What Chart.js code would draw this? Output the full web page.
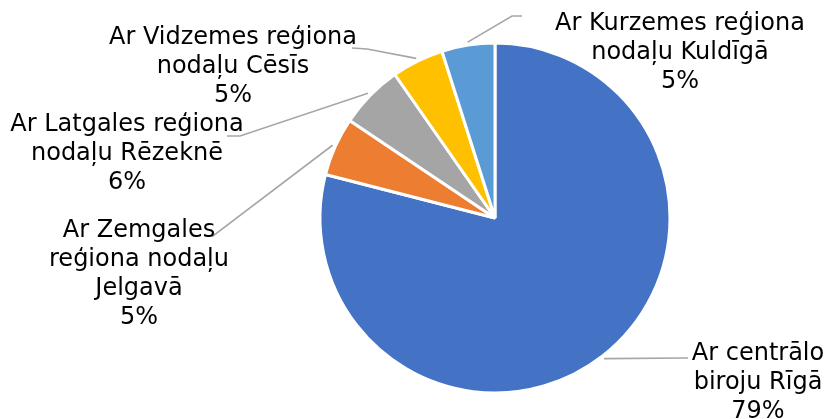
<!DOCTYPE html>
<html>
<head>
<meta charset="utf-8">
<script src="https://cdn.jsdelivr.net/npm/chart.js@4.4.1/dist/chart.umd.min.js"></script>
<style>
  body { margin: 0; background: #fff; }
  canvas { display: block; }
</style>
</head>
<body>
<canvas id="pieChart" width="826" height="419"></canvas>
<script>
// data
var categories = [
    'Ar centrālo biroju Rīgā',
    'Ar Zemgales reģiona nodaļu Jelgavā',
    'Ar Latgales reģiona nodaļu Rēzeknē',
    'Ar Vidzemes reģiona nodaļu Cēsīs',
    'Ar Kurzemes reģiona nodaļu Kuldīgā'
];
var values = [79.0, 5.4, 5.9, 4.8, 4.9];
var colors = ['#4472C4', '#ED7D31', '#A5A5A5', '#FFC000', '#5B9BD5'];

// how each label is wrapped in the picture
var labelLines = [
    ['Ar centrālo', 'biroju Rīgā'],
    ['Ar Zemgales', 'reģiona nodaļu', 'Jelgavā'],
    ['Ar Latgales reģiona', 'nodaļu Rēzeknē'],
    ['Ar Vidzemes reģiona', 'nodaļu Cēsīs'],
    ['Ar Kurzemes reģiona', 'nodaļu Kuldīgā']
];

// label placement: text centre x, first line y, leader elbow and end
var labelLayout = [
    { x: 758, y: 354, elbow: [688, 358], end: [688, 358] },
    { x: 139, y: 231, elbow: [213, 236], end: [205, 236] },
    { x: 127, y: 125, elbow: [240, 136], end: [227, 136] },
    { x: 233, y: 38,  elbow: [367, 49],  end: [352, 48] },
    { x: 680, y: 24,  elbow: [512, 16],  end: [522, 16] }
];

var total = values.reduce((s, v) => s + v, 0);

var outsideLabels = {
    id: 'outsideLabels',
    afterDatasetsDraw: function(chart) {
        var ctx = chart.ctx;
        var arcs = chart.getDatasetMeta(0).data;
        ctx.save();
        arcs.forEach(function(arc, i) {
            var p = arc.getProps(['x', 'y', 'startAngle', 'endAngle', 'outerRadius'], true);
            var mid = (p.startAngle + p.endAngle) / 2;
            var r = p.outerRadius + 3;
            var lay = labelLayout[i];
            ctx.strokeStyle = '#A6A6A6';
            ctx.lineWidth = 1.6;
            ctx.beginPath();
            ctx.moveTo(p.x + Math.cos(mid) * r, p.y + Math.sin(mid) * r);
            ctx.lineTo(lay.elbow[0], lay.elbow[1]);
            ctx.lineTo(lay.end[0], lay.end[1]);
            ctx.stroke();

            var lines = labelLines[i].concat([Math.round(values[i] / total * 100) + '%']);
            ctx.fillStyle = '#000';
            ctx.font = '24px "DejaVu Sans"';
            ctx.textAlign = 'center';
            ctx.textBaseline = 'middle';
            lines.forEach(function(t, k) {
                ctx.fillText(t, lay.x, lay.y + k * 29);
            });
        });
        ctx.restore();
    }
};

var ctx = document.getElementById('pieChart').getContext('2d');
var pieChart = new Chart(ctx, {
    type: 'pie',
    data: {
        labels: categories,
        datasets: [{
            data: values,
            backgroundColor: colors,
            borderColor: '#fff',
            borderWidth: 3
        }]
    },
    options: {
        responsive: false,
        animation: false,
        devicePixelRatio: 1,
        radius: 175,
        layout: { padding: { left: 300, right: 136, top: 18, bottom: 1 } },
        plugins: {
            legend: { display: false },
            tooltip: { enabled: false }
        }
    },
    plugins: [outsideLabels]
});
</script>
</body>
</html>
